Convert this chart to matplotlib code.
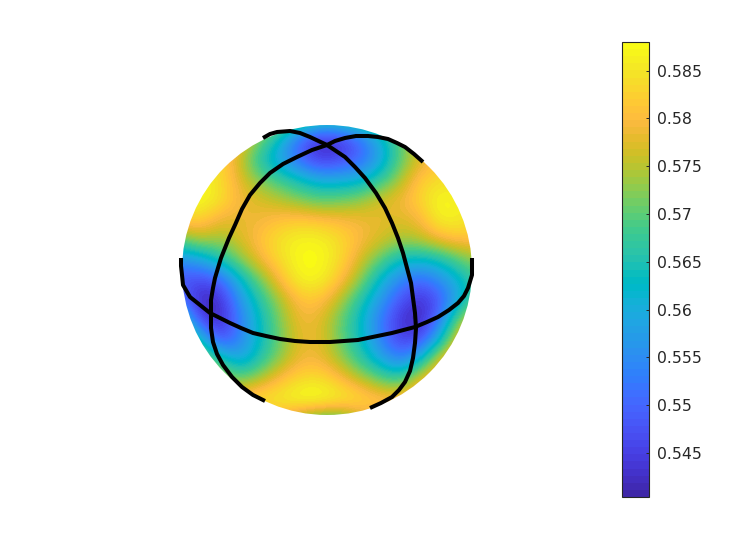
import numpy as np
import matplotlib
matplotlib.use("Agg")
import matplotlib.pyplot as plt
from matplotlib.colors import ListedColormap, Normalize
from matplotlib.patches import Circle
from matplotlib.cm import ScalarMappable

W, H = 746, 560

# Surface values (thousandths), on a 20-pixel lattice
x_nodes = list(range(180, 481, 20))
y_nodes = list(range(120, 421, 20))
surface_milli = [
    [575,575,575,578,575,575,572,568,568,570,572,575,578,578,578,578],
    [584,584,584,580,572,562,549,541,543,550,560,570,578,580,580,580],
    [586,586,584,576,565,558,550,544,546,550,558,570,577,581,582,582],
    [588,588,584,578,572,568,564,560,560,561,567,574,582,584,585,585],
    [588,588,585,579,577,575,572,570,571,573,577,579,583,588,586,586],
    [582,583,578,578,579,581,582,581,580,579,578,577,579,587,586,584],
    [570,575,573,577,581,585,587,587,584,580,577,574,575,579,581,580],
    [555,558,565,572,579,584,588,588,584,577,570,563,562,564,570,574],
    [548,546,549,562,571,580,587,587,581,573,562,554,550,555,562,568],
    [552,541,542,556,566,574,581,581,575,566,557,548,542,548,560,572],
    [570,545,541,553,563,572,579,578,571,563,553,543,541,552,574,580],
    [575,565,546,554,563,571,578,578,571,564,554,545,546,562,582,582],
    [578,575,568,558,566,573,579,579,574,567,560,553,562,580,582,582],
    [580,578,575,572,575,581,584,585,581,576,571,568,580,582,582,582],
    [580,580,578,582,586,586,589,589,587,585,582,582,582,582,582,582],
    [578,578,578,578,578,578,570,566,566,574,578,578,580,580,580,580],
]

# Three black circles drawn on the sphere
ring_a_x = [181,181,182,183,190,200,210,230,241,253,266,280,295,310,330,358,392,415,427,438,449,458,464,468,472,472,472]
ring_a_y = [258,266,275,285,297,305,313,323,328,333,336,339,341,342,342,340,333,327,322,317,310,303,296,288,275,265,258]
ring_b_x = [263,270,277,290,300,310,327,336,345,355,365,376,385,392,398,403,407,411,413,415,416,415,413,410,405,399,392,381,370]
ring_b_y = [138,134,132,131,133,137,145,151,157,167,178,193,208,223,238,253,268,283,298,313,328,343,358,371,382,390,397,403,408]
ring_c_x = [423,414,405,397,388,378,368,356,345,335,327,312,297,283,270,260,250,242,235,229,225,221,218,215,213,211,211,211,213,217,223,232,242,253,265]
ring_c_y = [162,154,147,143,139,137,136,136,138,141,145,150,157,164,173,183,195,209,225,238,248,258,268,278,288,300,315,328,342,354,365,377,387,395,401]

v_min, v_max = 0.5404, 0.5880
bar_ticks = [0.545, 0.55, 0.555, 0.56, 0.565, 0.57, 0.575, 0.58, 0.585]
bar_labels = ["0.545", "0.55", "0.555", "0.56", "0.565", "0.57", "0.575", "0.58", "0.585"]

parula = [
 (.2422,.1504,.6603),(.2504,.1650,.7076),(.2578,.1818,.7511),(.2647,.1978,.7952),
 (.2706,.2147,.8364),(.2751,.2342,.8710),(.2783,.2559,.8991),(.2803,.2782,.9221),
 (.2813,.3006,.9414),(.2810,.3228,.9579),(.2795,.3447,.9717),(.2760,.3667,.9829),
 (.2699,.3892,.9906),(.2602,.4123,.9952),(.2440,.4358,.9988),(.2206,.4603,.9973),
 (.1963,.4847,.9892),(.1834,.5074,.9798),(.1786,.5289,.9682),(.1764,.5499,.9520),
 (.1687,.5703,.9359),(.1540,.5902,.9218),(.1460,.6091,.9079),(.1380,.6276,.8973),
 (.1248,.6459,.8883),(.1113,.6635,.8763),(.0952,.6798,.8598),(.0689,.6948,.8394),
 (.0297,.7082,.8163),(.0036,.7203,.7917),(.0067,.7312,.7660),(.0433,.7411,.7394),
 (.0964,.7500,.7120),(.1408,.7584,.6842),(.1717,.7670,.6554),(.1938,.7758,.6251),
 (.2161,.7843,.5923),(.2470,.7918,.5567),(.2906,.7973,.5188),(.3406,.8008,.4789),
 (.3909,.8029,.4354),(.4456,.8024,.3909),(.5044,.7993,.3480),(.5616,.7942,.3045),
 (.6174,.7876,.2612),(.6720,.7793,.2227),(.7242,.7698,.1910),(.7738,.7598,.1646),
 (.8203,.7498,.1535),(.8634,.7406,.1596),(.9035,.7330,.1774),(.9393,.7288,.2100),
 (.9728,.7298,.2394),(.9956,.7434,.2371),(.9970,.7659,.2199),(.9952,.7893,.2028),
 (.9892,.8136,.1885),(.9786,.8386,.1766),(.9676,.8639,.1643),(.9610,.8890,.1537),
 (.9597,.9135,.1423),(.9628,.9373,.1265),(.9691,.9606,.1064),(.9769,.9839,.0805),
]

cmap = ListedColormap(parula, name="parula")
norm = Normalize(v_min, v_max)
dark = "#262626"

fig = plt.figure(figsize=(W / 100, H / 100), dpi=100)
ax = fig.add_axes([0, 0, 1, 1])
ax.set_axis_off()

z = np.array(surface_milli) / 1000.0
step = x_nodes[1] - x_nodes[0]
img = ax.imshow(
    z, cmap=cmap, norm=norm, interpolation="bicubic", interpolation_stage="data",
    extent=(x_nodes[0] - step / 2, x_nodes[-1] + step / 2,
            y_nodes[-1] + step / 2, y_nodes[0] - step / 2),
    aspect="auto", zorder=1,
)
ax.set_xlim(0, W)
ax.set_ylim(H, 0)
img.set_clip_path(Circle((327, 270), 145, transform=ax.transData))

for rx, ry in ((ring_a_x, ring_a_y), (ring_b_x, ring_b_y), (ring_c_x, ring_c_y)):
    ax.plot(rx, ry, color="black", lw=2.9, solid_joinstyle="round",
            solid_capstyle="butt", zorder=3)

cax = fig.add_axes([622 / W, 1 - 497 / H, 27 / W, 455 / H])
cb = fig.colorbar(ScalarMappable(norm=norm, cmap=cmap), cax=cax)
cb.set_ticks(bar_ticks, labels=bar_labels)
cb.ax.minorticks_off()
cb.ax.tick_params(direction="in", length=2.5, width=0.7, color=dark,
                  labelcolor=dark, labelsize=11.3, pad=5.5)
cb.outline.set_edgecolor(dark)
cb.outline.set_linewidth(0.8)

fig.savefig("out.png", dpi=100)
